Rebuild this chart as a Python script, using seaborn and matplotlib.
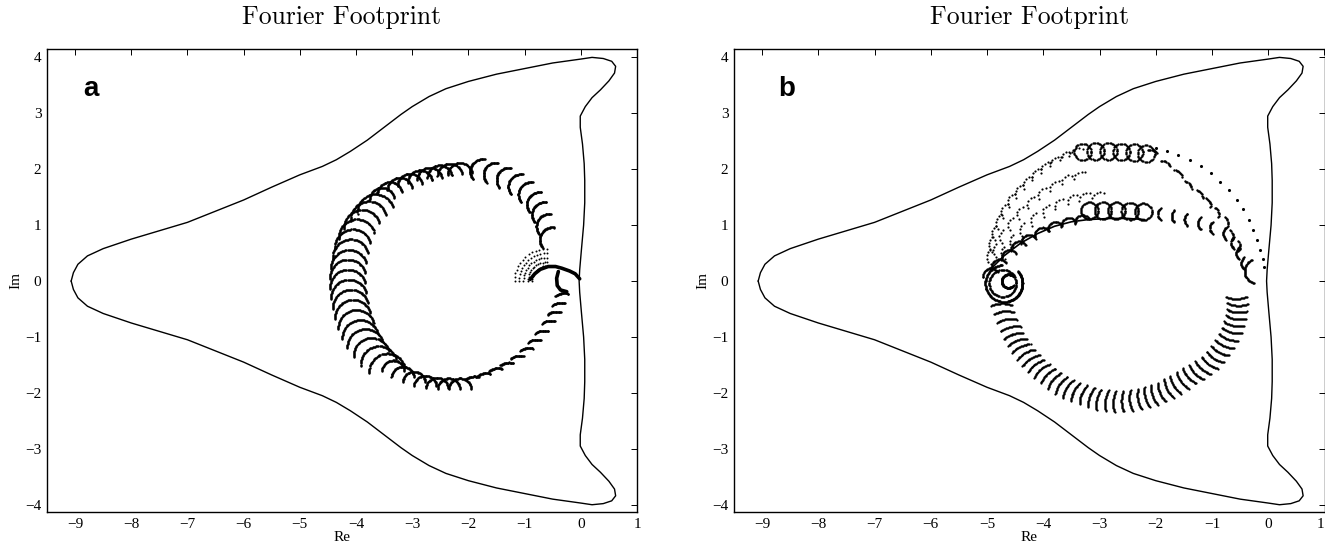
import numpy as np
import pandas as pd
import seaborn as sns
import matplotlib.pyplot as plt

sns.set_theme(style="white")
plt.rcParams["font.family"] = ["Liberation Serif", "DejaVu Serif"]
plt.rcParams["axes.unicode_minus"] = True
plt.rcParams["text.color"] = "black"
plt.rcParams["axes.labelcolor"] = "black"

# ---------------------------------------------------------------------------
# Stability-region boundary (upper half; the lower half is its mirror image)
# ---------------------------------------------------------------------------
edge_re = [-9.07, -9.03, -8.95, -8.78, -8.50, -8.00, -7.50, -7.00, -6.50, -6.00,
           -5.50, -5.00, -4.60, -4.35, -4.10, -3.80, -3.50, -3.20, -3.00, -2.70,
           -2.40, -2.00, -1.50, -1.00, -0.50, 0.00, 0.20, 0.40, 0.55, 0.62,
           0.60, 0.50, 0.35, 0.20, 0.08, -0.01, -0.01, 0.03, 0.06, 0.07,
           0.07, 0.05, 0.01, -0.02, -0.03]
edge_im = [0.00, 0.15, 0.30, 0.45, 0.58, 0.75, 0.90, 1.05, 1.25, 1.45,
           1.68, 1.90, 2.05, 2.17, 2.32, 2.52, 2.75, 2.98, 3.12, 3.30,
           3.44, 3.57, 3.70, 3.80, 3.90, 3.97, 4.00, 3.98, 3.93, 3.84,
           3.72, 3.58, 3.42, 3.28, 3.12, 2.95, 2.75, 2.45, 2.10, 1.80,
           1.40, 1.00, 0.55, 0.20, 0.00]

# ---------------------------------------------------------------------------
# Footprint (a): apex positions of the small eigenvalue arcs
# ---------------------------------------------------------------------------
a_ne_re = [-0.70, -0.76, -0.84, -0.93, -1.08, -1.26, -1.47, -1.70, -1.94]
a_ne_im = [0.85, 1.09, 1.30, 1.48, 1.66, 1.80, 1.92, 2.01, 2.07]

a_top_re = [-2.17, -2.35, -2.53, -2.71, -2.88, -3.06, -3.24, -3.42, -3.56]
a_top_im = [2.11, 2.10, 2.07, 2.03, 1.98, 1.92, 1.85, 1.77, 1.67]

a_left_re = [-3.71, -3.83, -3.95, -4.04, -4.11, -4.15, -4.18, -4.20, -4.20,
             -4.18, -4.15, -4.11, -4.05, -3.98, -3.89, -3.78, -3.65, -3.50]
a_left_im = [1.55, 1.42, 1.27, 1.10, 0.92, 0.74, 0.55, 0.38, 0.20,
             0.02, -0.16, -0.34, -0.52, -0.70, -0.86, -1.02, -1.17, -1.30]

a_bot_re = [-3.34, -3.17, -2.97, -2.77, -2.56, -2.35, -2.15]
a_bot_im = [-1.42, -1.53, -1.62, -1.69, -1.73, -1.74, -1.74]

a_se_re = [-1.94, -1.73, -1.52, -1.32, -1.14, -0.97, -0.83, -0.70, -0.58,
           -0.48, -0.40, -0.34]
a_se_im = [-1.71, -1.65, -1.56, -1.46, -1.34, -1.20, -1.05, -0.89, -0.71,
           -0.55, -0.39, -0.22]

a_fan_radius = [0.58, 0.50, 0.42, 0.34, 0.27]

a_hook_re = [-0.90, -0.82, -0.72, -0.58, -0.45, -0.34, -0.20, -0.10, -0.02]
a_hook_im = [0.03, 0.13, 0.21, 0.26, 0.26, 0.23, 0.18, 0.13, 0.04]
a_tail_re = [-0.40, -0.43, -0.42, -0.36, -0.25]
a_tail_im = [0.17, 0.05, -0.08, -0.16, -0.19]

# ---------------------------------------------------------------------------
# Footprint (b)
# ---------------------------------------------------------------------------
# lower ring: mid points of the radial strokes
b_low_re = [-4.74, -4.70, -4.65, -4.59, -4.54, -4.47, -4.41, -4.32, -4.24,
            -4.15, -4.05, -3.94, -3.83, -3.71, -3.59, -3.46, -3.32, -3.18,
            -3.05, -2.90, -2.76, -2.61, -2.47, -2.32, -2.19, -2.06, -1.93,
            -1.80, -1.68, -1.55, -1.43, -1.30, -1.18, -1.06, -0.96, -0.87,
            -0.79, -0.72, -0.66, -0.62, -0.58, -0.56, -0.55, -0.56]
b_low_im = [-0.40, -0.54, -0.68, -0.82, -0.95, -1.06, -1.17, -1.28, -1.39,
            -1.49, -1.58, -1.67, -1.76, -1.84, -1.91, -1.97, -2.02, -2.07,
            -2.11, -2.13, -2.15, -2.15, -2.14, -2.12, -2.09, -2.05, -2.00,
            -1.94, -1.88, -1.80, -1.72, -1.66, -1.58, -1.49, -1.39, -1.28,
            -1.16, -1.04, -0.92, -0.80, -0.68, -0.56, -0.44, -0.32]

# inner family
b_in_left_re = [-4.98, -4.83, -4.65, -4.48, -4.30, -4.06, -3.83, -3.59, -3.35]
b_in_left_im = [0.22, 0.38, 0.55, 0.70, 0.82, 0.95, 1.05, 1.12, 1.17]
b_in_loop_re = [-3.18, -2.94, -2.70, -2.46, -2.22]
b_in_loop_im = [1.26, 1.26, 1.26, 1.25, 1.24]
b_in_right_re = [-1.96, -1.72, -1.49, -1.25, -1.04, -0.80, -0.66, -0.57, -0.48]
b_in_right_im = [1.20, 1.16, 1.10, 1.03, 0.95, 0.85, 0.68, 0.50, 0.32]
b_spine_re = [-4.95, -4.70, -4.40, -4.10, -3.80, -3.50, -3.20, -2.80, -2.50, -2.20]
b_spine_im = [0.20, 0.45, 0.68, 0.85, 0.98, 1.06, 1.10, 1.12, 1.12, 1.10]

# outer family
b_out_loop_re = [-3.30, -3.07, -2.84, -2.61, -2.38, -2.17]
b_out_loop_im = [2.31, 2.32, 2.32, 2.31, 2.30, 2.28]
b_out_left_re = [-5.01, -4.97, -4.92, -4.84, -4.74, -4.62, -4.48, -4.33, -4.17,
                 -4.00, -3.82, -3.63, -3.45]
b_out_left_im = [0.43, 0.65, 0.87, 1.08, 1.28, 1.47, 1.64, 1.80, 1.95,
                 2.08, 2.19, 2.29, 2.36]
b_mid1_re = [-4.90, -4.78, -4.63, -4.46, -4.27, -4.07, -3.85, -3.62, -3.38]
b_mid1_im = [0.55, 0.80, 1.03, 1.24, 1.43, 1.60, 1.74, 1.86, 1.94]
b_mid2_re = [-4.75, -4.60, -4.42, -4.22, -4.00, -3.77, -3.53, -3.30, -3.05]
b_mid2_im = [0.50, 0.72, 0.93, 1.12, 1.28, 1.41, 1.50, 1.55, 1.58]
b_rim_re = [-2.00, -1.80, -1.60, -1.40, -1.20, -1.02, -0.85, -0.70, -0.56,
            -0.45, -0.35, -0.27, -0.20, -0.15, -0.10, -0.08]
b_rim_im = [2.38, 2.33, 2.25, 2.17, 2.05, 1.93, 1.78, 1.62, 1.45,
            1.28, 1.10, 0.92, 0.74, 0.56, 0.40, 0.25]
b_dash_re = [-2.05, -1.81, -1.58, -1.40, -1.19, -1.04, -0.89, -0.72, -0.63, -0.50]
b_dash_im = [2.34, 2.13, 1.95, 1.74, 1.57, 1.42, 1.24, 1.06, 0.82, 0.62]

b_core_radius = [0.24, 0.33, 0.33, 0.12]

x_ticks = list(range(-9, 2))
y_ticks = list(range(-4, 5))


def arc_points(px, py, radius, apex_deg, half_span_deg, n):
    """Dots along circular arcs whose apex (mid point) sits at (px, py)."""
    px = np.asarray(px, float)
    py = np.asarray(py, float)
    apex = np.deg2rad(np.broadcast_to(np.asarray(apex_deg, float), px.shape))
    t = np.linspace(-1.0, 1.0, n) * np.deg2rad(half_span_deg)
    xs, ys = [], []
    for x0, y0, a in zip(px, py, apex):
        cx, cy = x0 - radius * np.cos(a), y0 - radius * np.sin(a)
        xs.append(cx + radius * np.cos(a + t))
        ys.append(cy + radius * np.sin(a + t))
    return np.concatenate(xs), np.concatenate(ys)


def outward(px, py, cx, cy):
    return np.degrees(np.arctan2(np.asarray(py) - cy, np.asarray(px) - cx))


def circle_points(cx, cy, r, a0, a1, n):
    t = np.deg2rad(np.linspace(a0, a1, n))
    return cx + r * np.cos(t), cy + r * np.sin(t)


def loops(cxs, cys, r, n=48):
    xs, ys = [], []
    for cx, cy in zip(cxs, cys):
        px, py = circle_points(cx, cy, r, 0, 360, n)
        xs.append(px)
        ys.append(py)
    return np.concatenate(xs), np.concatenate(ys)


def dots(ax, x, y, size=3.0):
    df = pd.DataFrame({"re": x, "im": y})
    sns.scatterplot(data=df, x="re", y="im", s=size, color="black",
                    linewidth=0, marker="o", legend=False, ax=ax)


def boundary(ax):
    up_x = list(edge_re)
    up_y = list(edge_im)
    xs = up_x + up_x[::-1][1:]
    ys = up_y + [-v for v in up_y[::-1]][1:]
    df = pd.DataFrame({"re": xs, "im": ys})
    sns.lineplot(data=df, x="re", y="im", sort=False, estimator=None,
                 color="black", lw=1.0, ax=ax)


def style(ax, letter, letter_x):
    ax.set_xlim(-9.5, 1.0)
    ax.set_ylim(-4.13, 4.15)
    ax.set_xticks(x_ticks)
    ax.set_yticks(y_ticks)
    ax.tick_params(direction="in", top=True, right=True, length=4, width=0.7,
                   labelsize=11, pad=4, colors="black")
    for sp in ax.spines.values():
        sp.set_color("black")
        sp.set_linewidth(1.0)
    ax.set_xlabel("Re", fontsize=11, labelpad=0)
    ax.set_ylabel("Im", fontsize=11, labelpad=2)
    ax.set_title("Fourier Footprint", fontfamily="cmr10", fontsize=18.5, pad=18)
    ax.text(letter_x, 3.44, letter, fontfamily="Liberation Sans",
            fontweight="bold", fontsize=20, ha="center", va="center",
            color="black")


fig = plt.figure(figsize=(13.25, 5.49), dpi=100)
ax_a = fig.add_axes([47 / 1325, 37 / 549, 590 / 1325, 463 / 549])
ax_b = fig.add_axes([734 / 1325, 37 / 549, 590.5 / 1325, 463 / 549])

# ----- panel (a) -----
boundary(ax_a)
for xs, ys, r, ap, hs, n in [
    (a_ne_re, a_ne_im, 0.22, 150, 70, 40),
    (a_top_re, a_top_im, 0.22, 95, 85, 40),
    (a_left_re, a_left_im, 0.32, 100, 85, 50),
    (a_bot_re, a_bot_im, 0.20, 90, 85, 40),
    (a_se_re, a_se_im, 0.25, 100, 28, 20),
]:
    x, y = arc_points(xs, ys, r, ap, hs, n)
    dots(ax_a, x, y)
fan_x, fan_y = [], []
for r in a_fan_radius:
    fx, fy = circle_points(-0.60, 0.0, r, 90, 180, 14)
    fan_x.append(fx)
    fan_y.append(fy)
dots(ax_a, np.concatenate(fan_x), np.concatenate(fan_y), size=2.0)
for hx, hy in [(a_hook_re, a_hook_im), (a_tail_re, a_tail_im)]:
    sns.lineplot(x=hx, y=hy, sort=False, estimator=None, color="black",
                 lw=2.6, ax=ax_a)
style(ax_a, "a", -8.72)

# ----- panel (b) -----
boundary(ax_b)
# lower ring of radial strokes
x, y = arc_points(b_low_re, b_low_im, 0.45,
                  outward(b_low_re, b_low_im, -2.65, -0.35) - 90, 24, 22)
dots(ax_b, x, y, size=2.6)
# inner family
x, y = arc_points(b_in_left_re, b_in_left_im, 0.14, 110, 80, 25)
dots(ax_b, x, y, size=2.5)
x, y = loops(b_in_loop_re, b_in_loop_im, 0.15)
dots(ax_b, x, y, size=2.5)
x, y = arc_points(b_in_right_re, b_in_right_im, 0.14, 180, 50, 14)
dots(ax_b, x, y)
sns.lineplot(x=b_spine_re, y=b_spine_im, sort=False, estimator=None,
             color="black", lw=1.2, ax=ax_b)
# outer family
x, y = loops(b_out_loop_re, b_out_loop_im, 0.15, 40)
dots(ax_b, x, y, size=2.5)
for xs, ys, r, hs, n in [(b_out_left_re, b_out_left_im, 0.16, 55, 6),
                         (b_mid1_re, b_mid1_im, 0.14, 55, 5),
                         (b_mid2_re, b_mid2_im, 0.14, 55, 5)]:
    x, y = arc_points(xs, ys, r, outward(xs, ys, -2.6, 0.6), hs, n)
    dots(ax_b, x, y, size=2.5)
dots(ax_b, b_rim_re, b_rim_im, size=5)
x, y = arc_points(b_dash_re, b_dash_im, 0.14,
                  outward(b_dash_re, b_dash_im, -2.6, 0.6), 40, 9)
dots(ax_b, x, y, size=3)
# left core loop and crescents
cx_, cy_ = [], []
for r, (a0, a1), (ccx, ccy) in zip(
        b_core_radius, [(0, 360), (95, 290), (-70, 40), (40, 320)],
        [(-4.72, -0.04), (-4.70, -0.04), (-4.70, -0.04), (-4.62, 0.0)]):
    px, py = circle_points(ccx, ccy, r, a0, a1, 70)
    cx_.append(px)
    cy_.append(py)
dots(ax_b, np.concatenate(cx_), np.concatenate(cy_))
x, y = arc_points([-0.42], [0.16], 0.22, 185, 70, 30)
dots(ax_b, x, y)
style(ax_b, "b", -8.57)
# the last x label sits on the figure edge: right-align it so it stays whole
ax_b.get_xticklabels()[-1].set_horizontalalignment("right")

fig.savefig("out.png", dpi=100)
